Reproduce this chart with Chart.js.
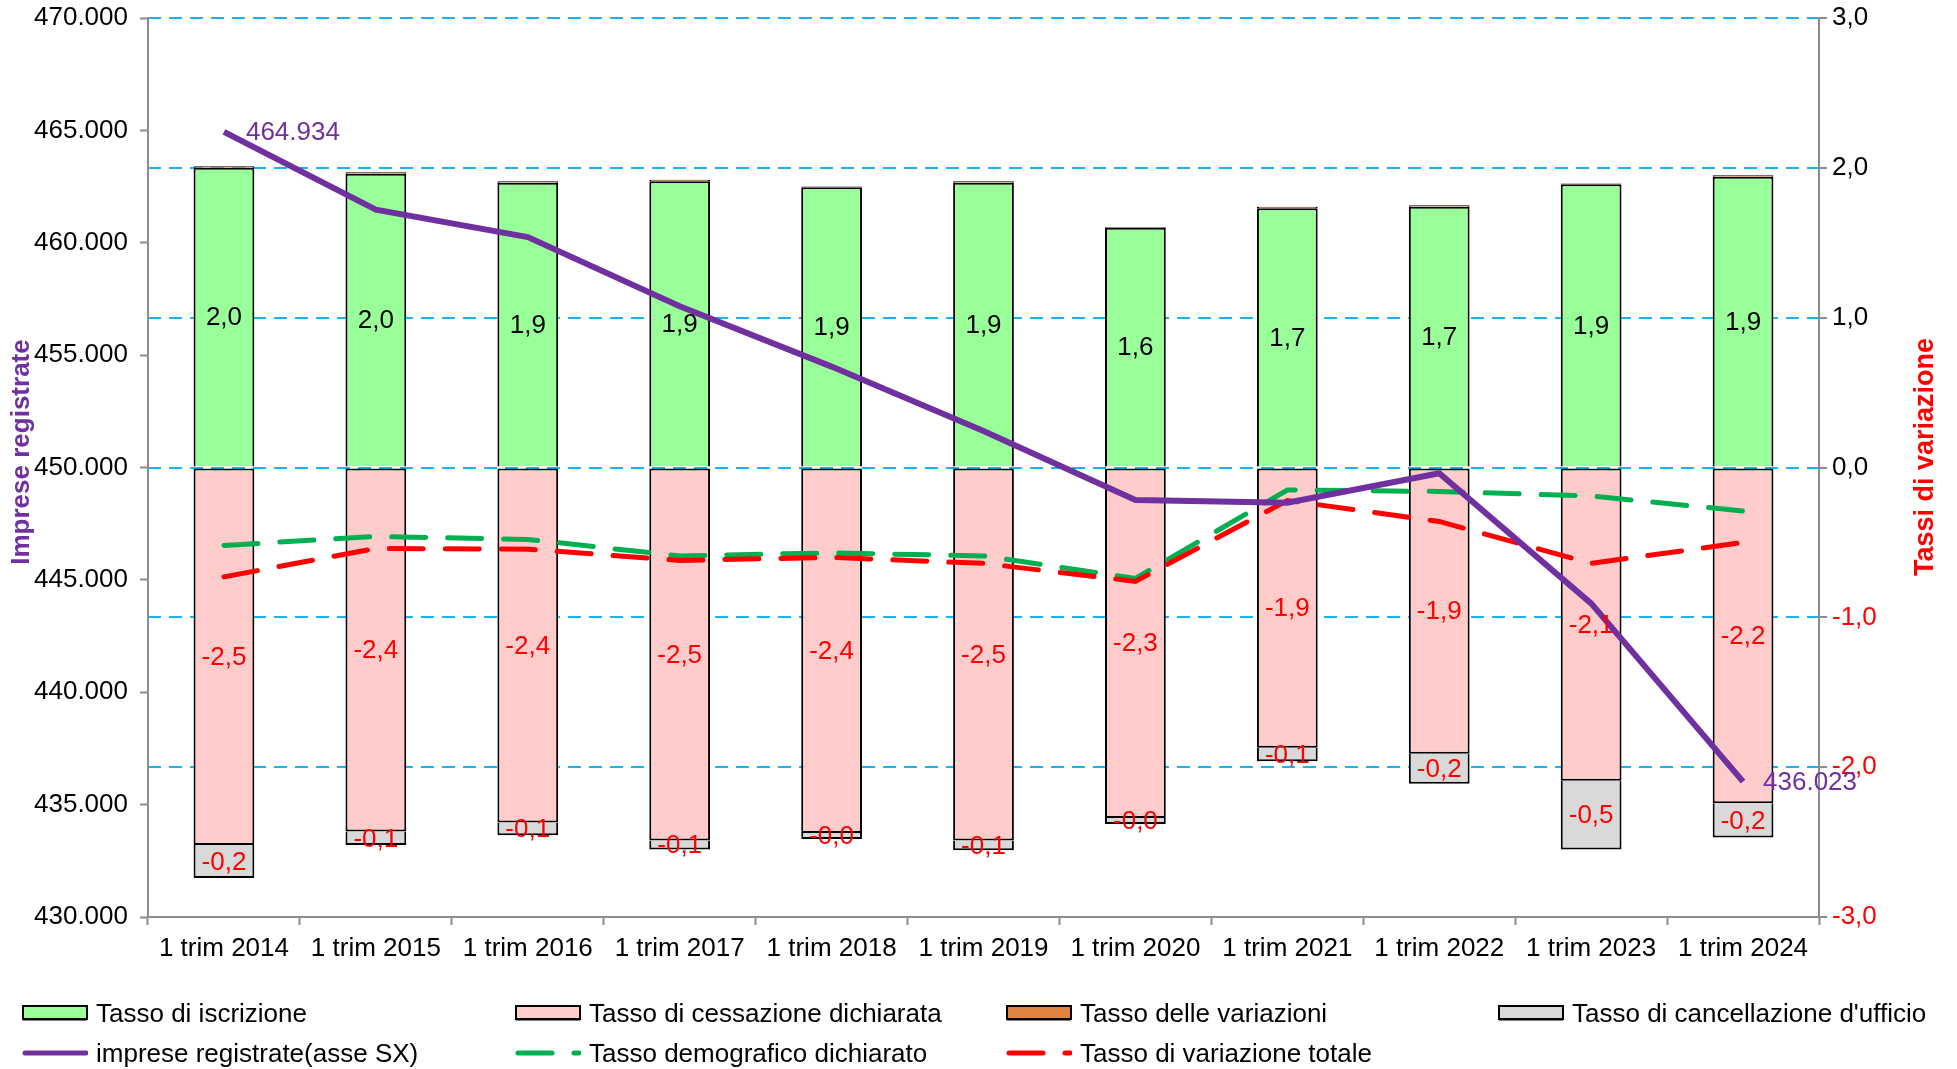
<!DOCTYPE html>
<html>
<head>
<meta charset="utf-8">
<script src="https://cdn.jsdelivr.net/npm/chart.js@4.4.1/dist/chart.umd.min.js"></script>
<style>
    body { margin: 0; background: #fff; font-family: 'Liberation Sans', Arial, sans-serif; }
    #wrap { position: relative; width: 1957px; height: 1069px; }
    .leg { position: absolute; height: 30px; display: flex; align-items: center; font-size: 26px; color: #000; white-space: nowrap; }
    .leg svg { margin-right: 8px; }
</style>
</head>
<body>
<div id="wrap">
    <canvas id="Chart" width="1957" height="1069"></canvas>
    <div id="legend"></div>
</div>
<script>
const labels = ['1 trim 2014', '1 trim 2015', '1 trim 2016', '1 trim 2017', '1 trim 2018', '1 trim 2019',
    '1 trim 2020', '1 trim 2021', '1 trim 2022', '1 trim 2023', '1 trim 2024'];

const iscrizione = [2.00, 1.96, 1.90, 1.91, 1.87, 1.90, 1.60, 1.73, 1.74, 1.89, 1.94];
const cessazione = [-2.52, -2.43, -2.37, -2.49, -2.44, -2.49, -2.34, -1.87, -1.91, -2.09, -2.24];
const variazioni = [0.01, 0.01, 0.01, 0.01, 0.005, 0.01, 0.005, 0.01, 0.01, 0.005, 0.01];
const cancellazione = [-0.22, -0.09, -0.085, -0.06, -0.04, -0.065, -0.04, -0.09, -0.20, -0.46, -0.23];

const impreseRegistrate = [464934, 461470, 460253, 457170, 454490, 451626, 448552, 448434, 449742, 443952, 436023];
const tassoDemografico = [-0.52, -0.46, -0.48, -0.59, -0.57, -0.59, -0.74, -0.15, -0.16, -0.19, -0.29];
const tassoTotale = [-0.73, -0.54, -0.545, -0.62, -0.60, -0.64, -0.76, -0.22, -0.36, -0.64, -0.50];

const FONT = "'Liberation Sans', Arial, sans-serif";
const FS = 26;
const GRAY = '#8c8c8c';

function fmtRate(v) {
    return v.toFixed(1).replace('.', ',');
}
function fmtThousands(v) {
    return String(Math.round(v)).replace(/\B(?=(\d{3})+(?!\d))/g, '.');
}

// labels inside the bar segments + first/last value of the purple line + axis titles
const labelsPlugin = {
    id: 'labelsPlugin',
    afterDatasetsDraw(chart) {
        const ctx = chart.ctx;
        ctx.save();
        ctx.font = FS + 'px ' + FONT;
        ctx.textAlign = 'center';
        ctx.textBaseline = 'middle';
        const barLabelColors = {0: '#000000', 1: '#ff0000', 3: '#ff0000'};
        for (const idx of [0, 1, 3]) {
            const meta = chart.getDatasetMeta(idx);
            const values = chart.data.datasets[idx].data;
            meta.data.forEach((bar, i) => {
                const p = bar.getProps(['x', 'y', 'base'], true);
                ctx.fillStyle = barLabelColors[idx];
                ctx.fillText(fmtRate(values[i]), p.x, (p.y + p.base) / 2 + 1);
            });
        }

        const lineMeta = chart.getDatasetMeta(4);
        const first = lineMeta.data[0];
        const last = lineMeta.data[lineMeta.data.length - 1];
        ctx.fillStyle = '#7030a0';
        ctx.textAlign = 'left';
        ctx.fillText(fmtThousands(impreseRegistrate[0]), first.x + 22, first.y + 1);
        ctx.fillText(fmtThousands(impreseRegistrate[impreseRegistrate.length - 1]), last.x + 20, last.y + 1);

        ctx.font = "bold 26px 'Liberation Sans Narrow', " + FONT;
        ctx.textAlign = 'center';
        ctx.save();
        ctx.translate(22, 452);
        ctx.rotate(-Math.PI / 2);
        ctx.fillStyle = '#7030a0';
        ctx.fillText('Imprese registrate', 0, 0);
        ctx.restore();
        ctx.save();
        ctx.translate(1926, 457);
        ctx.rotate(-Math.PI / 2);
        ctx.font = "bold 27px 'Liberation Sans Narrow', " + FONT;
        ctx.fillStyle = '#ff0000';
        ctx.fillText('Tassi di variazione', 0, 0);
        ctx.restore();
        ctx.restore();
    }
};

const barCommon = {
    type: 'bar',
    yAxisID: 'y1',
    stack: 'tassi',
    borderColor: '#000000',
    borderWidth: 2,
    barPercentage: 0.4,
    categoryPercentage: 1,
    inflateAmount: 0,
    order: 3
};

const data = {
    labels: labels,
    datasets: [
        Object.assign({}, barCommon, {label: 'Tasso di iscrizione', data: iscrizione, backgroundColor: '#99ff99', borderSkipped: 'start'}),
        Object.assign({}, barCommon, {label: 'Tasso di cessazione dichiarata', data: cessazione, backgroundColor: '#ffcccc', borderSkipped: false}),
        Object.assign({}, barCommon, {label: 'Tasso delle variazioni', data: variazioni, backgroundColor: '#dd8540', borderSkipped: 'start'}),
        Object.assign({}, barCommon, {label: "Tasso di cancellazione d'ufficio", data: cancellazione, backgroundColor: '#d9d9d9', borderSkipped: 'start'}),
        {
            type: 'line', label: 'imprese registrate(asse SX)', data: impreseRegistrate, yAxisID: 'y',
            borderColor: '#7030a0', borderWidth: 6, pointRadius: 0, tension: 0, order: 0
        },
        {
            type: 'line', label: 'Tasso demografico dichiarato', data: tassoDemografico, yAxisID: 'y1', stack: 'demo',
            borderColor: '#00b050', borderWidth: 5, borderDash: [34, 22], borderCapStyle: 'round',
            pointRadius: 0, tension: 0, order: 2
        },
        {
            type: 'line', label: 'Tasso di variazione totale', data: tassoTotale, yAxisID: 'y1', stack: 'tot',
            borderColor: '#ff0000', borderWidth: 5, borderDash: [34, 22], borderCapStyle: 'round',
            pointRadius: 0, tension: 0, order: 1
        }
    ]
};

const options = {
    responsive: false,
    animation: false,
    layout: { padding: { top: 18, left: 0, right: 0, bottom: 0 } },
    plugins: {
        legend: { display: false },
        tooltip: { enabled: false },
        title: { display: false }
    },
    scales: {
        x: {
            type: 'category',
            offset: true,
            grid: { display: true, drawOnChartArea: false, offset: true, tickLength: 8, tickColor: GRAY, tickWidth: 2 },
            border: { display: true, color: GRAY, width: 2 },
            ticks: { color: '#000', font: { family: FONT, size: FS }, padding: 8, maxRotation: 0, autoSkip: false },
            afterFit(scale) { scale.height = 152; }
        },
        y: {
            position: 'left',
            min: 430000,
            max: 470000,
            grid: { drawOnChartArea: false, tickLength: 8, tickColor: GRAY, tickWidth: 2 },
            border: { display: true, color: GRAY, width: 2 },
            ticks: {
                stepSize: 5000,
                color: '#000',
                font: { family: FONT, size: FS },
                padding: 12,
                callback: v => fmtThousands(v)
            },
            afterFit(scale) {
                scale.width = 148;
                scale.paddingTop = 0;
                scale.paddingBottom = 0;
            }
        },
        y1: {
            position: 'right',
            stacked: true,
            min: -3,
            max: 3,
            grid: {
                drawOnChartArea: true,
                color: ctx => (ctx.tick && ctx.tick.value === -3) ? 'rgba(0,0,0,0)' : '#19b4f0',
                lineWidth: 2,
                tickLength: 8,
                tickColor: GRAY,
                tickWidth: 2,
                tickBorderDash: []
            },
            border: { display: true, color: GRAY, width: 2, dash: [13, 8] },
            ticks: {
                stepSize: 1,
                font: { family: FONT, size: FS },
                padding: 5,
                color: ctx => ctx.tick.value < 0 ? '#ff0000' : '#000000',
                callback: v => fmtRate(v)
            },
            afterFit(scale) {
                scale.width = 138;
                scale.paddingTop = 0;
                scale.paddingBottom = 0;
            }
        }
    }
};

new Chart(document.getElementById('Chart').getContext('2d'), {
    type: 'bar',
    data: data,
    options: options,
    plugins: [labelsPlugin]
});

// legend, laid out in columns like the original
const legendItems = [
    {text: 'Tasso di iscrizione', box: '#99ff99', x: 22, y: 998},
    {text: 'Tasso di cessazione dichiarata', box: '#ffcccc', x: 515, y: 998},
    {text: 'Tasso delle variazioni', box: '#dd8540', x: 1006, y: 998},
    {text: "Tasso di cancellazione d'ufficio", box: '#d9d9d9', x: 1498, y: 998},
    {text: 'imprese registrate(asse SX)', line: '#7030a0', x: 22, y: 1038},
    {text: 'Tasso demografico dichiarato', line: '#00b050', dash: '34 22', x: 515, y: 1038},
    {text: 'Tasso di variazione totale', line: '#ff0000', dash: '34 22', x: 1006, y: 1038}
];
const legendEl = document.getElementById('legend');
legendItems.forEach(item => {
    const div = document.createElement('div');
    div.className = 'leg';
    div.style.left = item.x + 'px';
    div.style.top = item.y + 'px';
    let marker;
    if (item.box) {
        marker = '<svg width="66" height="18"><rect x="1" y="2" width="64" height="13" fill="' + item.box +
            '" stroke="#000" stroke-width="2"/><line x1="1" y1="15.5" x2="65" y2="15.5" stroke="#000" stroke-width="2"/></svg>';
    } else {
        marker = '<svg width="66" height="18"><line x1="3" y1="9" x2="64" y2="9" stroke="' + item.line +
            '" stroke-width="5" stroke-linecap="round"' + (item.dash ? ' stroke-dasharray="' + item.dash + '"' : '') + '/></svg>';
    }
    div.innerHTML = marker + '<span>' + item.text + '</span>';
    legendEl.appendChild(div);
});
</script>
</body>
</html>
